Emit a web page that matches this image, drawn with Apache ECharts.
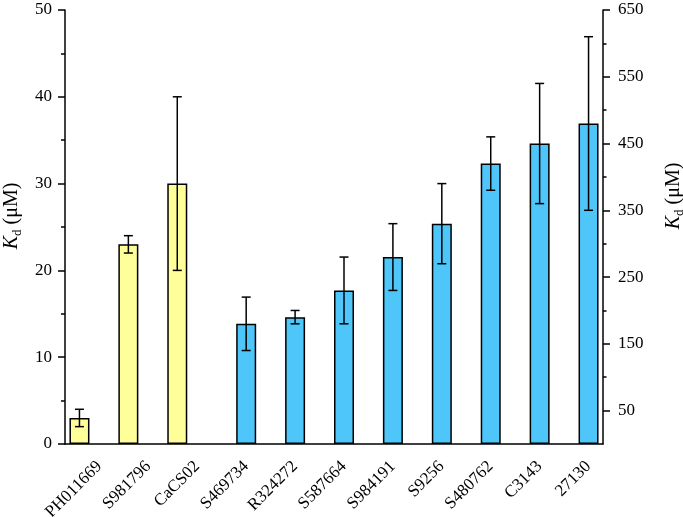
<!DOCTYPE html>
<html>
<head>
<meta charset="utf-8">
<script src="https://cdn.jsdelivr.net/npm/echarts@6/dist/echarts.min.js"></script>
<style>
  html,body{margin:0;padding:0;background:#fff;}
  #chart{width:683px;height:517px;}
</style>
</head>
<body>
<div id="chart"></div>
<script>
// categories, left group (yellow, left axis) and right group (blue, right axis)
const categories = ['PH011669','S981796','CaCS02','S469734','R324272','S587664','S984191','S9256','S480762','C3143','27130']
const yellowVals = [3, 23, 30, null, null, null, null, null, null, null, null]
const yellowErr  = [1, 1, 10, null, null, null, null, null, null, null, null]
const blueVals   = [null, null, null, 180, 190, 230, 280, 330, 420, 450, 480]
const blueErr    = [null, null, null, 40, 10, 50, 50, 60, 40, 90, 130]
const leftTicks  = [0, 10, 20, 30, 40, 50]
const rightTicks = [50, 150, 250, 350, 450, 550, 650]
const rightMinor = [100, 200, 300, 400, 500, 600]

const FONT = 'Liberation Serif'
const BAR_W = 20

function errData(vals, errs){
  let out = []
  vals.forEach((v,i)=>{ if(v!=null) out.push([i, v, errs[i]]) })
  return out
}

function errRender(shift){
  return function(params, api){
    const i = api.value(0), v = api.value(1), e = api.value(2)
    const top = api.coord([i, v + e])
    const bot = api.coord([i, v - e])
    const x = top[0] + shift
    const cap = 4.5
    const style = {stroke:'#000', lineWidth:1.5}
    return {type:'group', children:[
      {type:'line', shape:{x1:x, y1:top[1], x2:x, y2:bot[1]}, style},
      {type:'line', shape:{x1:x-cap, y1:top[1], x2:x+cap, y2:top[1]}, style},
      {type:'line', shape:{x1:x-cap, y1:bot[1], x2:x+cap, y2:bot[1]}, style},
    ]}
  }
}

const nameRich = {
  i:{fontFamily:FONT, fontSize:20, fontStyle:'italic', color:'#000', lineHeight:24, verticalAlign:'middle'},
  s:{fontFamily:FONT, fontSize:13, color:'#000', lineHeight:14, verticalAlign:'bottom'},
  n:{fontFamily:FONT, fontSize:20, color:'#000', lineHeight:24, verticalAlign:'middle'},
}
const axisLine = {show:true, lineStyle:{color:'#000', width:1.5}}

let option = {
  animation:false,
  grid:{left:65, right:80, top:10, bottom:73, outerBoundsMode:'none', containLabel:false},
  xAxis:[{
    type:'category',
    data:categories,
    axisTick:{show:false},
    axisLine:axisLine,
    axisLabel:{
      interval:0,
      rotate:45,
      margin:10,
      align:'right',
      verticalAlign:'top',
      lineHeight:28,
      fontFamily:FONT,
      fontSize:17,
      color:'#000'
    }
  }],
  yAxis:[{
    type:'value',
    min:0, max:50, interval:10,
    position:'left',
    splitLine:{show:false},
    axisLine:axisLine,
    axisTick:{show:true, length:7, lineStyle:{width:1.5, color:'#000'}},
    minorTick:{show:true, splitNumber:2, length:4, lineStyle:{width:1.5, color:'#000'}},
    axisLabel:{fontFamily:FONT, fontSize:17, color:'#000', margin:13, customValues:leftTicks},
    name:'{i|K}{s|d}{n| (μM)}',
    nameLocation:'middle',
    nameRotate:90,
    nameGap:47,
    nameTextStyle:{rich:nameRich, align:'center', verticalAlign:'middle', padding:[0,0,0,22]}
  },{
    type:'value',
    min:0, max:650, interval:50,
    position:'right',
    splitLine:{show:false},
    axisLine:axisLine,
    axisTick:{show:true, length:7, customValues:rightTicks, lineStyle:{width:1.5, color:'#000'}},
    axisLabel:{fontFamily:FONT, fontSize:17, color:'#000', margin:15, customValues:rightTicks},
    name:'{i|K}{s|d}{n| (μM)}',
    nameLocation:'middle',
    nameRotate:90,
    nameGap:71,
    nameTextStyle:{rich:nameRich, align:'center', verticalAlign:'middle', padding:[0,0,0,62]}
  },{
    // short ticks between the labelled ones on the right
    type:'value',
    min:0, max:650, interval:50,
    position:'right',
    splitLine:{show:false},
    axisLine:{show:false},
    axisTick:{show:true, length:3.5, customValues:rightMinor, lineStyle:{width:1.5, color:'#000'}},
    axisLabel:{show:false}
  }],
  series:[{
    type:'bar',
    yAxisIndex:0,
    data:yellowVals,
    barWidth:BAR_W,
    barGap:'0%',
    itemStyle:{color:'#ffff99', borderColor:'#000', borderWidth:1.5}
  },{
    type:'bar',
    yAxisIndex:1,
    data:blueVals,
    barWidth:BAR_W,
    barGap:'0%',
    itemStyle:{color:'#4fc6fa', borderColor:'#000', borderWidth:1.5}
  },{
    type:'custom',
    yAxisIndex:0,
    data:errData(yellowVals, yellowErr),
    encode:{x:0, y:1},
    renderItem:errRender(-BAR_W/2),
    z:5
  },{
    type:'custom',
    yAxisIndex:1,
    data:errData(blueVals, blueErr),
    encode:{x:0, y:1},
    renderItem:errRender(BAR_W/2),
    z:5
  }]
}

let chart = echarts.init(document.getElementById('chart'))
chart.setOption(option)
</script>
</body>
</html>
